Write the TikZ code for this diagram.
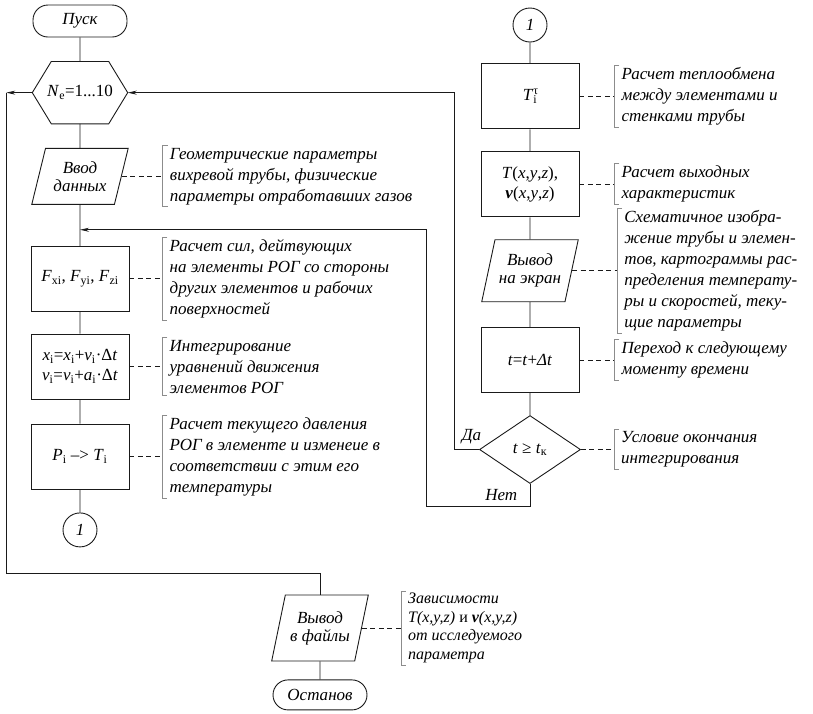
\documentclass[tikz,border=0pt]{standalone}
\usepackage{fontspec}
\setmainfont{Liberation Serif}
\usepackage{tikz}
\usetikzlibrary{positioning,arrows.meta,shapes.geometric,calc}
\definecolor{cnegro}{HTML}{1A1A1A}
\definecolor{cgris}{HTML}{8C8C8C}
\newcommand{\ivar}[1]{\textit{#1}}
\tikzset{
  blok/.style={rectangle, draw=cnegro, line width=0.9pt, align=center,
    minimum width=98pt, minimum height=65pt, font=\fontsize{17}{20}\selectfont},
  term/.style={rectangle, rounded corners=15pt, draw=cnegro, line width=0.9pt,
    minimum width=94pt, minimum height=32pt, font=\fontsize{17}{20}\selectfont\itshape},
  shest/.style={rectangle, inner sep=0pt, minimum width=95pt, minimum height=62pt,
    font=\fontsize{17}{20}\selectfont},
  dannye/.style={trapezium, trapezium left angle=72, trapezium right angle=108,
    trapezium stretches=true, draw=cnegro, line width=0.9pt, align=center,
    minimum width=97pt, minimum height=56pt, font=\fontsize{17}{18}\selectfont\itshape},
  uslovie/.style={diamond, aspect=1.5, draw=cnegro, line width=0.9pt, inner sep=0pt,
    minimum width=101pt, minimum height=68pt, font=\fontsize{17}{20}\selectfont},
  soed/.style={circle, draw=cnegro, line width=0.9pt, inner sep=0pt,
    minimum size=34pt, font=\fontsize{17}{20}\selectfont\itshape},
  prim/.style={align=left, inner xsep=7pt, inner ysep=2pt,
    font=\fontsize{17}{21}\selectfont\itshape},
  liniya/.style={draw=cnegro, line width=0.9pt},
  strelka/.style={liniya, -{Stealth[length=9pt, width=4pt]}},
  shtrih/.style={draw=cnegro, line width=0.9pt, dash pattern=on 5pt off 3.5pt},
  skobka/.style={draw=cgris, line width=0.8pt},
  metka/.style={font=\fontsize{17}{20}\selectfont\itshape},
}

\begin{document}
\begin{tikzpicture}[x=1pt, y=1pt, node distance=24pt and 33pt]
  \useasboundingbox (0,0) rectangle (813,-713);
  % levaya kolonka
  \node[term] (pusk) at (80,-21) {Пуск};
  \node[shest, below=24pt of pusk] (cikl) {\ivar{N}\textsubscript{e}=1...10};
  \draw[liniya] (cikl.west) -- ([xshift=19pt]cikl.north west) -- ([xshift=-19pt]cikl.north east)
    -- (cikl.east) -- ([xshift=-19pt]cikl.south east) -- ([xshift=19pt]cikl.south west) -- cycle;
  \node[dannye, below=24pt of cikl] (vvod) {Ввод\\данных};
  \node[blok, below=41pt of vvod] (sily) {\ivar{F}\textsubscript{xi}, \ivar{F}\textsubscript{yi}, \ivar{F}\textsubscript{zi}};
  \node[blok, below=22pt of sily] (integr) {\ivar{x}\textsubscript{i}=\ivar{x}\textsubscript{i}+\ivar{v}\textsubscript{i}·Δ\ivar{t}\\
    \ivar{v}\textsubscript{i}=\ivar{v}\textsubscript{i}+\ivar{a}\textsubscript{i}·Δ\ivar{t}};
  \node[blok, below=24pt of integr] (davl) {\ivar{P}\textsubscript{i} –> \ivar{T}\textsubscript{i}};
  \node[soed, below=23pt of davl] (s1) {1};
  % pravaya kolonka
  \node[soed] (s2) at (530,-25) {1};
  \node[blok, below=21pt of s2] (teplo) {\ivar{T}\rlap{\textsuperscript{τ}}\textsubscript{i}};
  \node[blok, below=22pt of teplo] (vyhod) {\ivar{T}(\ivar{x},\ivar{y},\ivar{z}),\\
    \textbf{\ivar{v}}(\ivar{x},\ivar{y},\ivar{z})};
  \node[dannye, below=22pt of vyhod, minimum height=62pt] (ekran) {Вывод\\на экран};
  \node[blok, below=25pt of ekran] (shag) {\ivar{t}=\ivar{t}+\ivar{Δt}};
  \node[uslovie, below=22pt of shag] (konec) {\ivar{t} ≥ \ivar{t}\textsubscript{к}};
  % niz
  \node[dannye, minimum height=66pt] (fajl) at (320,-628) {Вывод\\в файлы};
  \node[term, below=18pt of fajl, minimum height=30pt] (stop) {Останов};

  % primechaniya
  \node[prim, right=41pt of vvod] (p1) {Геометрические параметры\\вихревой трубы, физические\\параметры отработавших газов};
  \node[prim, right=33pt of sily] (p2) {Расчет сил, дейтвующих\\на элементы РОГ со стороны\\других элементов и рабочих\\поверхностей};
  \node[prim, right=33pt of integr] (p3) {Интегрирование\\уравнений движения\\элементов РОГ};
  \node[prim, right=33pt of davl] (p4) {Расчет текущего давления\\РОГ в элементе и изменеие в\\соответствии с этим его\\температуры};
  \node[prim, right=35pt of teplo] (p5) {Расчет теплообмена\\между элементами и\\стенками трубы};
  \node[prim, right=35pt of vyhod] (p6) {Расчет выходных\\характеристик};
  \node[prim, right=45pt of ekran] (p7) {Схематичное изобра-\\жение трубы и элемен-\\тов, картограммы рас-\\пределения температу-\\ры и скоростей, теку-\\щие параметры};
  \node[prim, right=35pt of shag] (p8) {Переход к следующему\\моменту времени};
  \node[prim, right=33pt of konec] (p9) {Условие окончания\\интегрирования};
  \node[prim, right=39pt of fajl, font=\fontsize{16}{18.5}\selectfont\itshape] (p10) {Зависимости\\\ivar{T}(\ivar{x},\ivar{y},\ivar{z}) {\upshape и} \textbf{\ivar{v}}(\ivar{x},\ivar{y},\ivar{z})\\от исследуемого\\параметра};

  \draw[shtrih] (vvod.east) -- (p1.west);
  \draw[shtrih] (sily) -- (p2);
  \draw[shtrih] (integr) -- (p3);
  \draw[shtrih] (davl) -- (p4);
  \draw[shtrih] (teplo) -- (p5);
  \draw[shtrih] (vyhod) -- (p6);
  \draw[shtrih] (ekran.east) -- (p7.west);
  \draw[shtrih] (shag) -- (p8);
  \draw[shtrih] (konec) -- (p9);
  \draw[shtrih] (fajl.east) -- (p10.west);

  \draw[skobka] ([xshift=5pt]p1.north west) -| (p1.south west) -- ++(5pt,0);
  \draw[skobka] ([xshift=5pt]p2.north west) -| (p2.south west) -- ++(5pt,0);
  \draw[skobka] ([xshift=5pt]p3.north west) -| (p3.south west) -- ++(5pt,0);
  \draw[skobka] ([xshift=5pt]p4.north west) -| (p4.south west) -- ++(5pt,0);
  \draw[skobka] ([xshift=5pt]p5.north west) -| (p5.south west) -- ++(5pt,0);
  \draw[skobka] ([xshift=5pt]p6.north west) -| (p6.south west) -- ++(5pt,0);
  \draw[skobka] ([xshift=5pt]p7.north west) -| (p7.south west) -- ++(5pt,0);
  \draw[skobka] ([xshift=5pt]p8.north west) -| (p8.south west) -- ++(5pt,0);
  \draw[skobka] ([xshift=5pt]p9.north west) -| (p9.south west) -- ++(5pt,0);
  \draw[skobka] ([xshift=5pt]p10.north west) -| (p10.south west) -- ++(5pt,0);

  % svyazi
  \draw[liniya] (pusk) -- (cikl) -- (vvod) -- (sily) -- (integr) -- (davl) -- (s1);
  \draw[liniya] (s2) -- (teplo) -- (vyhod) -- (ekran) -- (shag) -- (konec);
  \draw[liniya] (fajl) -- (stop);

  \coordinate (da) at ([xshift=-25pt]konec.west);
  \coordinate (net) at ([yshift=-22pt]konec.south);
  \coordinate (vhod) at ([yshift=-25pt]vvod.south);
  \coordinate (vyh) at ([xshift=-26pt]cikl.west);
  \coordinate (niz) at ([yshift=-26pt]s1.south);
  \draw[strelka] (konec.west) -- node[pos=0.3, above=2pt, metka]{Да} (da) |- (cikl.east);
  \draw[strelka] (konec.south) -- node[midway, left=9pt, metka]{Нет} (net) -| ([xshift=-28pt]da) |- (vhod);
  \draw[strelka] (cikl.west) -- (vyh);
  \draw[liniya] (vyh) |- (niz) -| (fajl.north);
\end{tikzpicture}
\end{document}
